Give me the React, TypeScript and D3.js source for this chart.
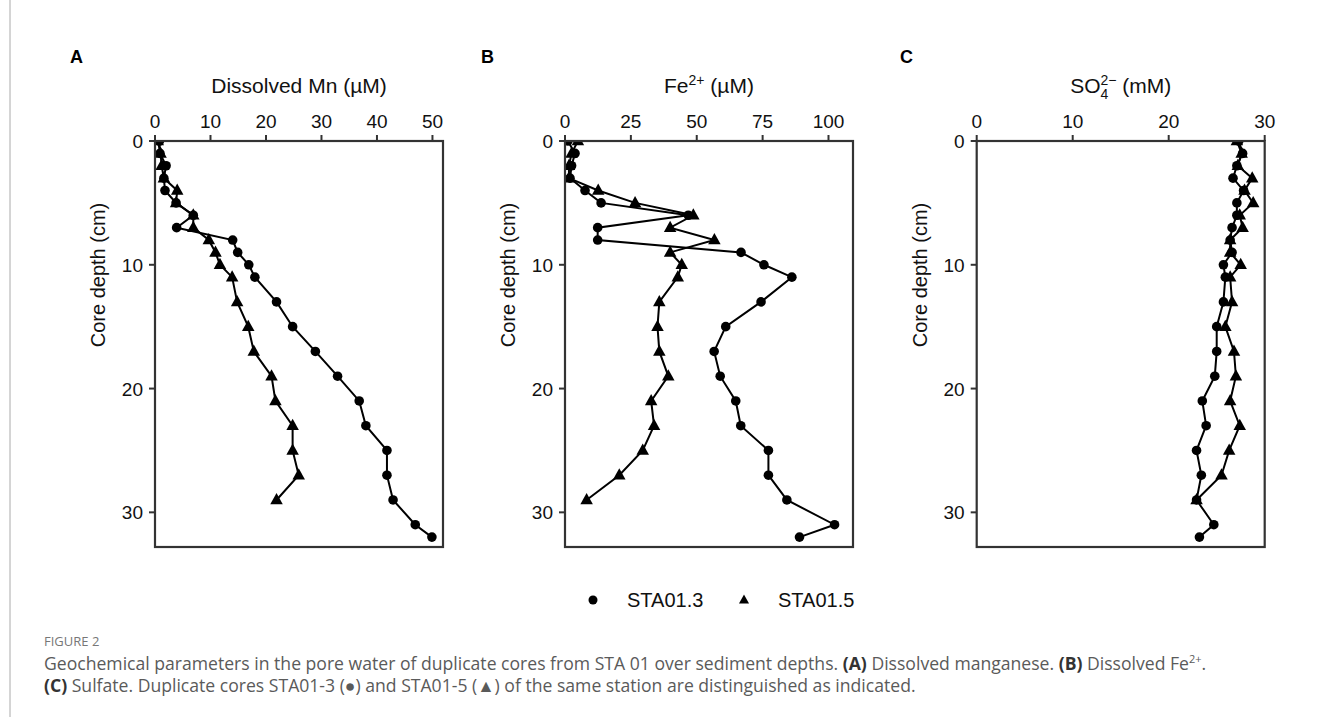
import React from "react";
import * as d3 from "d3";

// ---- data ----
const depthsSTA013 = [0, 1, 2, 3, 4, 5, 6, 7, 8, 9, 10, 11, 13, 15, 17, 19, 21, 23, 25, 27, 29, 31, 32];
const depthsSTA015 = [0, 1, 2, 3, 4, 5, 6, 7, 8, 9, 10, 11, 13, 15, 17, 19, 21, 23, 25, 27, 29];

const mnSTA013 = [0.8, 0.9, 2.0, 1.6, 1.8, 3.8, 6.9, 3.9, 14.0, 14.9, 16.9, 18.0, 21.9, 24.8, 28.9, 32.9, 36.8, 38.0, 41.8, 41.8, 42.9, 46.9, 49.9];
const mnSTA015 = [0.5, 1.0, 1.2, 1.6, 4.0, 3.8, 6.9, 6.9, 9.7, 10.9, 11.7, 13.9, 14.8, 16.8, 17.8, 21.0, 21.7, 24.8, 24.8, 25.9, 21.9];

const feSTA013 = [1.1, 3.8, 2.5, 1.9, 7.6, 13.7, 46.8, 12.4, 12.4, 66.8, 75.5, 86.1, 74.4, 61.0, 56.6, 58.9, 64.8, 66.7, 77.2, 77.2, 84.2, 102.3, 89.0];
const feSTA015 = [4.9, 2.5, 1.5, 1.5, 12.6, 26.6, 48.7, 39.9, 56.7, 39.9, 44.3, 42.8, 35.8, 35.1, 35.8, 39.2, 32.7, 33.8, 29.5, 20.6, 8.2];

const so4STA013 = [27.3, 27.7, 27.1, 26.7, 27.8, 27.1, 27.1, 26.6, 26.4, 26.6, 25.7, 25.9, 25.7, 25.0, 25.0, 24.8, 23.5, 23.9, 22.9, 23.4, 22.9, 24.7, 23.2];
const so4STA015 = [27.1, 27.6, 27.2, 28.7, 27.9, 28.8, 27.4, 27.7, 26.4, 26.4, 27.5, 26.4, 26.6, 25.9, 26.8, 27.0, 26.4, 27.4, 26.3, 25.5, 22.9];

const mnTicks = [0, 10, 20, 30, 40, 50];
const feTicks = [0, 25, 50, 75, 100];
const so4Ticks = [0, 10, 20, 30];
const depthTicks = [0, 10, 20, 30];
const seriesNames = ["STA01.3", "STA01.5"];

// ---- layout ----
const W = 1322;
const H = 719;
const TOP = 141;
const BOTTOM = 547;
const PW = 288;
const FONT = "'Liberation Sans', Arial, Helvetica, sans-serif";
const FRAME = "#333";

const yScale = d3.scaleLinear().domain([0, 32.8]).range([TOP, BOTTOM]);

function triPath(cx: number, cy: number, s: number) {
  const h = s * 0.9;
  return `M${cx},${cy - h * 0.62}L${cx + s / 2},${cy + h * 0.38}L${cx - s / 2},${cy + h * 0.38}Z`;
}

type PanelProps = {
  id: string;
  left: number;
  xMax: number;
  ticks: number[];
  letter: string;
  letterX: number;
  title: React.ReactNode;
  c: number[];
  t: number[];
};

function Panel({ id, left, xMax, ticks, letter, letterX, title, c, t }: PanelProps) {
  const x = d3.scaleLinear().domain([0, xMax]).range([left, left + PW]);
  const line = d3
    .line<[number, number]>()
    .x((d) => x(d[0]))
    .y((d) => yScale(d[1]));
  const cPts: [number, number][] = c.map((v, i) => [v, depthsSTA013[i]]);
  const tPts: [number, number][] = t.map((v, i) => [v, depthsSTA015[i]]);
  const cx = left + PW / 2;
  return (
    <g>
      <defs>
        <clipPath id={`clip-${id}`}>
          <rect x={left} y={TOP} width={PW} height={BOTTOM - TOP} />
        </clipPath>
      </defs>
      <text x={letterX} y={63} fontFamily={FONT} fontWeight="bold" fontSize={18} fill="#000">
        {letter}
      </text>
      <text x={cx} y={93} textAnchor="middle" fontFamily={FONT} fontSize={21} fill="#111">
        {title}
      </text>
      {ticks.map((v) => (
        <g key={v}>
          <line x1={x(v)} x2={x(v)} y1={TOP} y2={TOP - 6} stroke={FRAME} strokeWidth={2} />
          <text x={x(v)} y={128} textAnchor="middle" fontFamily={FONT} fontSize={19} fill="#111">
            {v}
          </text>
        </g>
      ))}
      {depthTicks.map((v) => (
        <g key={v}>
          <line x1={left} x2={left - 6} y1={yScale(v)} y2={yScale(v)} stroke={FRAME} strokeWidth={2} />
          <text x={left - 12} y={yScale(v) + 7} textAnchor="end" fontFamily={FONT} fontSize={19} fill="#111">
            {v}
          </text>
        </g>
      ))}
      <text
        transform={`translate(${left - 50},275) rotate(-90)`}
        textAnchor="middle"
        fontFamily={FONT}
        fontSize={20}
        fill="#111"
      >
        Core depth (cm)
      </text>
      <g clipPath={`url(#clip-${id})`}>
        <path d={line(cPts) || ""} fill="none" stroke="#000" strokeWidth={2} />
        {cPts.map((p, i) => (
          <circle key={i} cx={x(p[0])} cy={yScale(p[1])} r={4.8} fill="#000" />
        ))}
        <path d={line(tPts) || ""} fill="none" stroke="#000" strokeWidth={2} />
        {tPts.map((p, i) => (
          <path key={i} d={triPath(x(p[0]), yScale(p[1]), 12.5)} fill="#000" />
        ))}
      </g>
      <rect x={left} y={TOP} width={PW} height={BOTTOM - TOP} fill="none" stroke={FRAME} strokeWidth={2.2} />
    </g>
  );
}

export default function App() {
  const capFont = "'Open Sans', 'Noto Sans', sans-serif";
  return (
    <svg
      width={W}
      height={H}
      viewBox={`0 0 ${W} ${H}`}
      style={{ position: "absolute", left: 0, top: 0, background: "#fff" }}
    >
      <rect x={0} y={0} width={W} height={H} fill="#fff" />
      <line x1={10} x2={10} y1={0} y2={717} stroke="#aaa" strokeWidth={1} />
      <Panel
        id="a"
        left={155}
        xMax={51.9}
        ticks={mnTicks}
        letter="A"
        letterX={70}
        title={"Dissolved Mn (\u00b5M)"}
        c={mnSTA013}
        t={mnSTA015}
      />
      <Panel
        id="b"
        left={565}
        xMax={109.3}
        ticks={feTicks}
        letter="B"
        letterX={481}
        title={
          <>
            <tspan>Fe</tspan>
            <tspan fontSize={14} dy={-8}>2+</tspan>
            <tspan dy={8}> (µM)</tspan>
          </>
        }
        c={feSTA013}
        t={feSTA015}
      />
      <Panel
        id="c"
        left={976.7}
        xMax={30}
        ticks={so4Ticks}
        letter="C"
        letterX={900}
        title={
          <>
            <tspan>SO</tspan>
            <tspan fontSize={14} dy={6}>4</tspan>
            <tspan fontSize={14} dx={-8} dy={-14}>2−</tspan>
            <tspan dy={8}> (mM)</tspan>
          </>
        }
        c={so4STA013}
        t={so4STA015}
      />
      {/* legend */}
      <g fontFamily={FONT} fontSize={20} fill="#111">
        <circle cx={593} cy={600} r={4.5} fill="#000" />
        <text x={627} y={607}>{seriesNames[0]}</text>
        <path d={triPath(744, 600, 10)} fill="#000" />
        <text x={778} y={607}>{seriesNames[1]}</text>
      </g>
      {/* caption */}
      <text x={44} y={646} fontFamily={capFont} fontSize={13} fill="#777">FIGURE 2</text>
      <text x={44} y={670} fontFamily={capFont} fontSize={17.6} fill="#5a5a5a">
        Geochemical parameters in the pore water of duplicate cores from STA 01 over sediment depths.{" "}
        <tspan fontWeight="bold" fill="#333">(A)</tspan> Dissolved manganese.{" "}
        <tspan fontWeight="bold" fill="#333">(B)</tspan> Dissolved Fe
        <tspan fontSize={11} dy={-7}>2+</tspan>
        <tspan dy={7}>.</tspan>
      </text>
      <text x={44} y={692} fontFamily={capFont} fontSize={17.6} fill="#5a5a5a">
        <tspan fontWeight="bold" fill="#333">(C)</tspan> Sulfate. Duplicate cores STA01-3 (●) and STA01-5 (▲) of the
        same station are distinguished as indicated.
      </text>
    </svg>
  );
}
